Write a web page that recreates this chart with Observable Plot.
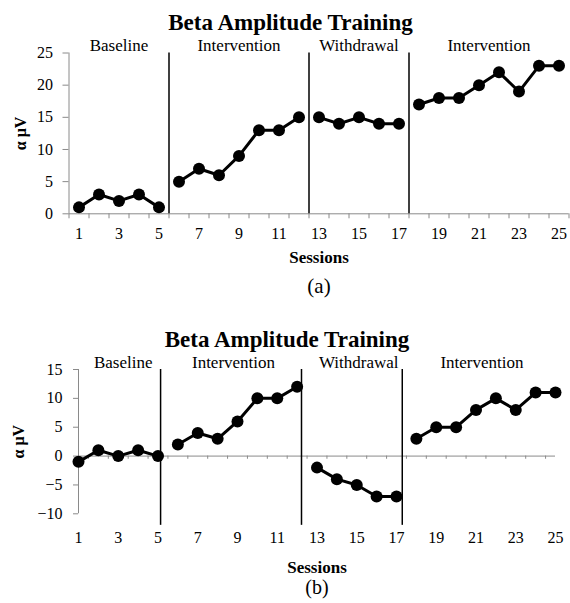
<!DOCTYPE html>
<html>
<head>
<meta charset="utf-8">
<script src="https://cdn.jsdelivr.net/npm/d3@7"></script>
<script src="https://cdn.jsdelivr.net/npm/@observablehq/plot@0.6"></script>
<style>
  body { margin: 0; background: #fff; }
  #charts svg { display: block; }
</style>
</head>
<body>
<div id="charts"></div>
<script>
// ---- data ----
const sessions = d3.range(1, 26);
const phaseNames = ["Baseline", "Intervention", "Withdrawal", "Intervention"];
const phaseOfSession = [0,0,0,0,0, 1,1,1,1,1,1,1, 2,2,2,2,2, 3,3,3,3,3,3,3,3];
const valuesA = [1,3,2,3,1, 5,7,6,9,13,13,15, 15,14,15,14,14, 17,18,18,20,22,19,23,23];
const valuesB = [-1,1,0,1,0, 2,4,3,6,10,10,12, -2,-4,-5,-7,-7, 3,5,5,8,10,8,11,11];
const phaseBreaksA = [5.5, 12.5, 17.5];
const phaseBreaksB = [5.13, 12.22, 17.29];
const phaseLabelXA = [3, 9, 15, 21.5];
const phaseLabelXB = [3.25, 8.8, 15.1, 21.3];
const yTicksA = [0, 5, 10, 15, 20, 25];
const yTicksB = [-10, -5, 0, 5, 10, 15];
const xTickLabels = [1, 3, 5, 7, 9, 11, 13, 15, 17, 19, 21, 23, 25];
const chartTitle = "Beta Amplitude Training";
const xLabel = "Sessions";
const yLabel = "α μV";
const panelLabels = ["(a)", "(b)"];

const font = "'Liberation Serif', 'Times New Roman', serif";
const axisGray = "#8a8a8a";

const dataA = sessions.map((s, i) => ({session: s, value: valuesA[i], phase: phaseOfSession[i]}));
const dataB = sessions.map((s, i) => ({session: s, value: valuesB[i], phase: phaseOfSession[i]}));
const boundariesA = d3.range(0.5, 26, 1);
const boundariesB = d3.range(1.5, 25, 1);

const mid = {lineAnchor: "middle", textAnchor: "middle"};

const plotA = Plot.plot({
  width: 570, height: 300,
  marginLeft: 68.5, marginRight: 1.5, marginTop: 52.5, marginBottom: 86.7,
  style: {fontFamily: font, fontSize: "16px", color: "#000", background: "#fff", overflow: "visible"},
  x: {domain: [0.5, 25.5]},
  y: {domain: [0, 25]},
  marks: [
    Plot.ruleX([0.5], {y1: 0, y2: 25, stroke: axisGray}),
    Plot.ruleY([0], {x1: 0.5, x2: 25.5, stroke: axisGray}),
    Plot.axisY({ticks: yTicksA, tickSize: 6, tickPadding: 10, stroke: axisGray, fill: "#000", label: null, fontSize: 16}),
    Plot.axisX({ticks: boundariesA, tickSize: 5, tickFormat: () => "", stroke: axisGray, label: null}),
    Plot.axisX({ticks: xTickLabels, tickSize: 0, tickPadding: 14, label: null, fontSize: 16}),
    Plot.ruleX(phaseBreaksA, {y1: 0, y2: 25, stroke: "#000", strokeWidth: 1.5}),
    Plot.line(dataA, {x: "session", y: "value", z: "phase", stroke: "#000", strokeWidth: 3}),
    Plot.dot(dataA, {x: "session", y: "value", r: 6, fill: "#000"}),
    Plot.text(phaseNames, {x: (d, i) => phaseLabelXA[i], frameAnchor: "top", dy: -7.5, fontSize: 17, ...mid}),
    Plot.text([chartTitle], {frameAnchor: "top", dx: -28.5, dy: -30.5, fontSize: 23, fontWeight: "bold", ...mid}),
    Plot.text([xLabel], {frameAnchor: "bottom", dy: 44, fontSize: 17, fontWeight: "bold", ...mid}),
    Plot.text([panelLabels[0]], {frameAnchor: "bottom", dy: 72.7, fontSize: 21, ...mid}),
    Plot.text([yLabel], {frameAnchor: "left", dx: -48.5, rotate: -90, fontSize: 16, fontWeight: "bold", ...mid})
  ]
});

const plotB = Plot.plot({
  width: 570, height: 303,
  marginLeft: 78, marginRight: 15, marginTop: 69, marginBottom: 89.7,
  style: {fontFamily: font, fontSize: "16px", color: "#000", background: "#fff", overflow: "visible"},
  x: {domain: [1, 25]},
  y: {domain: [-10, 15]},
  marks: [
    Plot.ruleX([1], {y1: -10, y2: 15, stroke: axisGray}),
    Plot.ruleY([0], {x1: 1, x2: 25, stroke: axisGray}),
    Plot.ruleX(boundariesB, {y1: 0, y2: -0.55, stroke: axisGray}),
    Plot.axisY({ticks: yTicksB, tickSize: 5, tickPadding: 11, stroke: axisGray, fill: "#000", label: null, fontSize: 16}),
    Plot.axisX({ticks: xTickLabels, tickSize: 0, tickPadding: 18, label: null, fontSize: 16}),
    Plot.ruleX(phaseBreaksB, {y1: -12, y2: 15, stroke: "#000", strokeWidth: 1.5}),
    Plot.line(dataB, {x: "session", y: "value", z: "phase", stroke: "#000", strokeWidth: 3}),
    Plot.dot(dataB, {x: "session", y: "value", r: 6, fill: "#000"}),
    Plot.text(phaseNames, {x: (d, i) => phaseLabelXB[i], frameAnchor: "top", dy: -7, fontSize: 17, ...mid}),
    Plot.text([chartTitle], {frameAnchor: "top", dx: -30, dy: -30, fontSize: 23, fontWeight: "bold", ...mid}),
    Plot.text([xLabel], {frameAnchor: "bottom", dy: 53.4, fontSize: 17, fontWeight: "bold", ...mid}),
    Plot.text([panelLabels[1]], {frameAnchor: "bottom", dy: 73.5, fontSize: 20, ...mid}),
    Plot.text([yLabel], {frameAnchor: "left", dx: -59.7, rotate: -90, fontSize: 16, fontWeight: "bold", ...mid})
  ]
});

const host = document.getElementById("charts");
host.append(plotA, plotB);
</script>
</body>
</html>
